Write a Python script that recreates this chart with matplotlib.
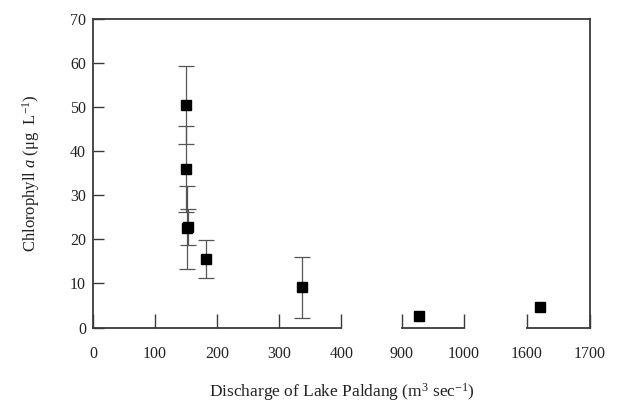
import matplotlib.pyplot as plt

plt.rcParams["font.family"] = ["Liberation Serif", "DejaVu Serif"]
plt.rcParams["mathtext.fontset"] = "custom"
plt.rcParams["mathtext.rm"] = "Liberation Serif"
plt.rcParams["mathtext.it"] = "Liberation Serif:italic"

# data
discharge = [150, 150, 152, 153, 182, 336, 927, 1621]
chl_a = [50.5, 35.9, 22.6, 22.8, 15.6, 9.1, 2.7, 4.6]
chl_sd = [8.9, 9.8, 9.4, 4.0, 4.3, 6.9, 0.3, 0.3]

# broken x axis: (xmin, xmax, ticks)
segments = [
    (0, 400, [0, 100, 200, 300, 400]),
    (900, 1000, [900, 1000]),
    (1600, 1700, [1600, 1700]),
]
y_ticks = [0, 10, 20, 30, 40, 50, 60, 70]

W, H = 624, 407
seg_px = [(93, 341.5), (402, 464), (527, 590)]
top_px, bot_px = 19, 327.5

spine_color = "#3a3a3a"
text_color = "#222222"


def px_box(x0, x1):
    return [x0 / W, 1 - bot_px / H, (x1 - x0) / W, (bot_px - top_px) / H]


fig = plt.figure(figsize=(W / 100, H / 100), dpi=100)

frame = fig.add_axes(px_box(seg_px[0][0], seg_px[-1][1]))
frame.set_ylim(0, 70)
frame.set_yticks(y_ticks)
frame.set_xticks([])
frame.spines["bottom"].set_visible(False)
for s in ["left", "top", "right"]:
    frame.spines[s].set_color(spine_color)
    frame.spines[s].set_linewidth(1.3)
frame.tick_params(axis="y", direction="in", length=8, width=1.0,
                  color=spine_color, labelsize=11.5, labelcolor=text_color, pad=5)
frame.set_ylabel(r"Chlorophyll $\mathit{a}$ ($\mathrm{\mu g\ \ L^{-1}}$)",
                 fontsize=12, color=text_color, labelpad=20)
frame.text(0.5, -0.21, r"Discharge of Lake Paldang (m$^{3}$ sec$^{-1}$)",
           transform=frame.transAxes, ha="center", va="center",
           fontsize=12.5, color=text_color)

for (lo, hi, ticks), (x0, x1) in zip(segments, seg_px):
    ax = fig.add_axes(px_box(x0, x1))
    ax.patch.set_visible(False)
    ax.set_xlim(lo, hi)
    ax.set_ylim(0, 70)
    ax.set_xticks(ticks)
    for s in ["left", "top", "right"]:
        ax.spines[s].set_visible(False)
    ax.spines["bottom"].set_color(spine_color)
    ax.spines["bottom"].set_linewidth(1.3)
    ax.tick_params(axis="x", direction="in", length=10, width=1.0,
                   color=spine_color, labelsize=11.5, labelcolor=text_color, pad=13)
    ax.tick_params(axis="y", left=False, labelleft=False)

    pts = [(x, y, e) for x, y, e in zip(discharge, chl_a, chl_sd) if lo <= x <= hi]
    # bars smaller than the marker are hidden behind it in the original
    bars = [p for p in pts if p[2] >= 1]
    if bars:
        ax.errorbar([p[0] for p in bars], [p[1] for p in bars],
                    yerr=[p[2] for p in bars], fmt="none", ecolor="#555555",
                    elinewidth=0.9, capsize=6, capthick=0.9, clip_on=False)
    ax.plot([p[0] for p in pts], [p[1] for p in pts], "s", color="black",
            markersize=6.5, zorder=3, clip_on=False)

fig.savefig("out.png", dpi=100)
